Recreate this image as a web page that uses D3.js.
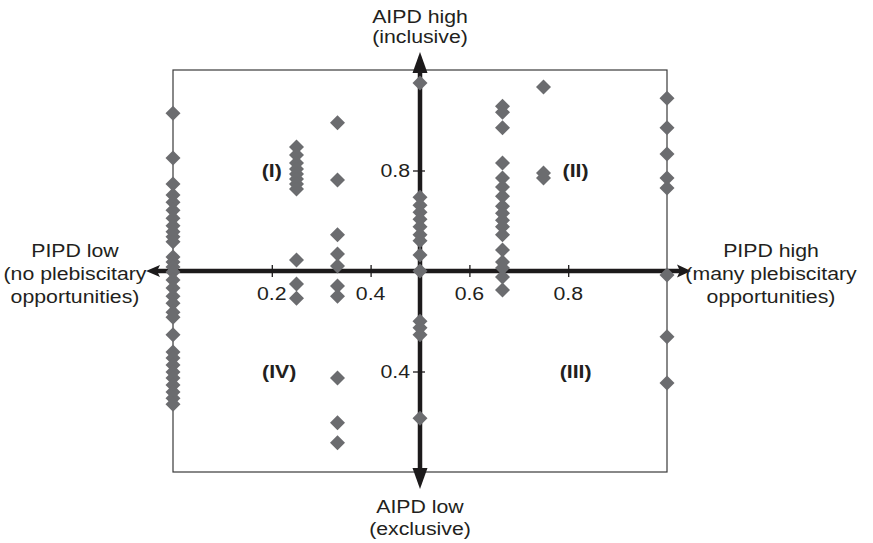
<!DOCTYPE html>
<html>
<head>
<meta charset="utf-8">
<script src="https://cdn.jsdelivr.net/npm/d3@7"></script>
<style>
body { margin: 0; background: #fff; }
text { font-family: "Liberation Sans", Arial, Helvetica, sans-serif; fill: #231f20; }
</style>
</head>
<body>
<svg id="chart" width="873" height="543"></svg>
<script>
// PIPD values (x) of the columns, and the AIPD values (y) of each column
var pipdCols = [0, 0.25, 0.333, 0.5, 0.667, 0.75, 1];
var aipdAt0 = [0.914, 0.825, 0.773, 0.751, 0.737, 0.721, 0.705, 0.690, 0.678, 0.668, 0.658,
    0.628, 0.618, 0.608, 0.598, 0.582, 0.566, 0.550, 0.536, 0.518, 0.508, 0.473, 0.439,
    0.427, 0.413, 0.399, 0.387, 0.373, 0.359, 0.347, 0.335];
var aipdAt025 = [0.847, 0.831, 0.815, 0.803, 0.793, 0.783, 0.773, 0.763, 0.622, 0.574, 0.546];
var aipdAt033 = [0.895, 0.781, 0.672, 0.634, 0.610, 0.570, 0.550, 0.387, 0.298, 0.258];
var aipdAt05 = [0.974, 0.747, 0.731, 0.717, 0.703, 0.688, 0.672, 0.660, 0.632, 0.600,
    0.500, 0.487, 0.473, 0.307];
var aipdAt067 = [0.928, 0.916, 0.885, 0.815, 0.785, 0.767, 0.749, 0.729, 0.715, 0.701,
    0.688, 0.672, 0.642, 0.618, 0.606, 0.588, 0.562];
var aipdAt075 = [0.966, 0.795, 0.785];
var aipdAt1 = [0.944, 0.885, 0.833, 0.785, 0.765, 0.592, 0.469, 0.377];
var aipdCols = [aipdAt0, aipdAt025, aipdAt033, aipdAt05, aipdAt067, aipdAt075, aipdAt1];

var xTicks = [0.2, 0.4, 0.6, 0.8];
var yTicks = [0.4, 0.8];
var quadrants = [
    { name: '(I)', px: 0.2, py: 0.8 },
    { name: '(II)', px: 0.815, py: 0.8 },
    { name: '(III)', px: 0.815, py: 0.4 },
    { name: '(IV)', px: 0.215, py: 0.4 }
];

var STRETCH = 1.15;
var FONT = 18.5;
var svg = d3.select('#chart');

var x = d3.scaleLinear().domain([0, 1]).range([173, 667]);
var y = d3.scaleLinear().domain([0.2, 1]).range([472, 70]);
var x0 = x(0.5), y0 = y(0.6);

// plot frame
svg.append('rect')
    .attr('x', x(0)).attr('y', y(1))
    .attr('width', x(1) - x(0)).attr('height', y(0.2) - y(1))
    .style('fill', 'none').style('stroke', '#3a3a3a').style('stroke-width', 1.2);

function label(txt, px, py, anchor, bold) {
    return svg.append('text')
        .attr('transform', 'translate(' + px + ',' + py + ') scale(' + STRETCH + ',1)')
        .attr('text-anchor', anchor)
        .style('font-size', FONT + 'px')
        .style('font-weight', bold ? 'bold' : 'normal')
        .text(txt);
}

// axes through the centre
var AXIS_W = 4.5;
svg.append('line')
    .attr('x1', 156).attr('x2', 680).attr('y1', y0).attr('y2', y0)
    .style('stroke', '#1c1a1b').style('stroke-width', AXIS_W);
svg.append('line')
    .attr('x1', x0).attr('x2', x0).attr('y1', 68).attr('y2', 474)
    .style('stroke', '#1c1a1b').style('stroke-width', AXIS_W);

var heads = [
    [[146, y0], [160, y0 - 6], [157, y0], [160, y0 + 6]],
    [[691, y0], [677, y0 - 6.5], [680, y0], [677, y0 + 6.5]],
    [[x0, 52], [x0 - 7.5, 73], [x0 + 7.5, 73]],
    [[x0, 489], [x0 - 7.5, 468], [x0 + 7.5, 468]]
];
svg.append('g').selectAll('path')
    .data(heads)
    .enter().append('path')
    .attr('d', function (d) { return 'M' + d.join('L') + 'Z'; })
    .style('fill', '#1c1a1b');

// tick marks with D3 axes, labels drawn stretched
var xAxis = svg.append('g')
    .attr('transform', 'translate(0,' + y0 + ')')
    .call(d3.axisBottom(x).tickValues(xTicks).tickSize(6).tickFormat(''));
xAxis.select('.domain').remove();
xAxis.selectAll('.tick line').attr('y1', -6).attr('y2', 6)
    .style('stroke', '#1c1a1b').style('stroke-width', 1.3);
xTicks.forEach(function (t) { label(d3.format('.1f')(t), x(t), y0 + 29, 'middle'); });

var yAxis = svg.append('g')
    .attr('transform', 'translate(' + x0 + ',0)')
    .call(d3.axisLeft(y).tickValues(yTicks).tickSize(6).tickFormat(''));
yAxis.select('.domain').remove();
yAxis.selectAll('.tick line').attr('x1', -7).attr('x2', 5)
    .style('stroke', '#1c1a1b').style('stroke-width', 1.3);
yTicks.forEach(function (t) { label(d3.format('.1f')(t), x0 - 10, y(t) + 6.5, 'end'); });

// points sit on top of the axes
var points = [];
pipdCols.forEach(function (p, i) {
    aipdCols[i].forEach(function (a) { points.push({ pipd: p, aipd: a }); });
});
var diamond = 'M0,-7.5L7.5,0L0,7.5L-7.5,0Z';
svg.append('g').selectAll('path')
    .data(points)
    .enter().append('path')
    .attr('d', diamond)
    .attr('transform', function (d) { return 'translate(' + x(d.pipd) + ',' + y(d.aipd) + ')'; })
    .style('fill', '#6b6c6f');

// quadrant labels
quadrants.forEach(function (q) { label(q.name, x(q.px), y(q.py) + 6.5, 'middle', true); });

// axis titles
label('AIPD high', x0, 23, 'middle');
label('(inclusive)', x0, 43, 'middle');
label('AIPD low', x0, 513, 'middle');
label('(exclusive)', x0, 535, 'middle');
label('PIPD low', 75, 257, 'middle');
label('(no plebiscitary', 75, 280, 'middle');
label('opportunities)', 75, 303, 'middle');
label('PIPD high', 771, 257, 'middle');
label('(many plebiscitary', 771, 280, 'middle');
label('opportunities)', 771, 303, 'middle');
</script>
</body>
</html>
